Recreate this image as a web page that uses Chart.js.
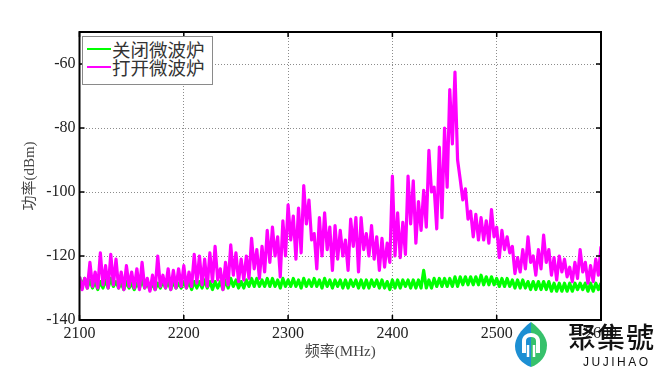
<!DOCTYPE html>
<html><head><meta charset="utf-8">
<script src="https://cdn.jsdelivr.net/npm/chart.js@4"></script>
<style>
html,body{margin:0;padding:0;background:#fff;}
#wrap{position:relative;width:661px;height:372px;overflow:hidden;}
#c{position:absolute;left:0;top:0;}
#legend{position:absolute;left:82px;top:36px;width:131px;height:49px;border:1px solid #8a8a8a;background:#fff;box-sizing:border-box;font-family:"Noto Sans CJK SC";font-size:18.5px;color:#333;}
.item{position:absolute;left:0;width:128px;height:20px;line-height:20px;}
.item .ln{position:absolute;left:4px;top:9px;width:24px;height:2px;}
.item .tx{position:absolute;left:29px;top:0;white-space:nowrap;}
#logo{position:absolute;left:514px;top:321px;}
#brand{position:absolute;left:568px;top:318px;font-family:"Noto Sans CJK TC";font-size:28px;font-weight:500;color:#111;letter-spacing:1px;white-space:nowrap;line-height:36px;}
#brand2{position:absolute;left:583px;top:355px;font-family:"Liberation Sans";font-size:12px;color:#111;letter-spacing:2.5px;line-height:14px;}
</style>
</head><body>
<div id="wrap">
<canvas id="c" width="661" height="372"></canvas>
<div id="legend">
  <div class="item" style="top:2px"><span class="ln" style="background:#00ff00"></span><span class="tx" id="lg0"></span></div>
  <div class="item" style="top:20px"><span class="ln" style="background:#ff00ff"></span><span class="tx" id="lg1"></span></div>
</div>
<svg id="logo" width="34" height="47" viewBox="0 0 34 47">
  <path d="M17 1 C6 9 1 18 1 25 C1 35 8 43 17 46 Z" fill="#1d8fd3"/>
  <path d="M17 1 C28 9 33 18 33 24 C33 35 26 43 17 46 Z" fill="#36c16b"/>
  <path d="M10 32 L10 20 C10 12 24 12 24 20 L24 32" fill="none" stroke="#fff" stroke-width="4"/>
  <path d="M14 36 L14 24 M20 36 L20 24" fill="none" stroke="#fff" stroke-width="2.5"/>
</svg>
<div id="brand">聚集號</div>
<div id="brand2">JUJIHAO</div>
</div>
<script>
// ---- data ----
const FREQ_START = 2100;   // MHz, first sample
const FREQ_STEP = 2.5;     // MHz between samples
const xTickValues = [2100, 2200, 2300, 2400, 2500, 2600];
const yTickValues = [-140, -120, -100, -80, -60];
const seriesNames = ['关闭微波炉', '打开微波炉'];
const xAxisTitle = '频率(MHz)';
const yAxisTitle = '功率(dBm)';

// microwave off (green), dBm
const microwaveOff = [
  -126.5,-129.5, -127,-130, -127.5,-130, -128,-130.5, -128,-130, -127.5,-130, -127,-129.5, -128,-130, -128.5,-130.5, -128,-130,
  -128.5,-130.5, -128.5,-130, -127.5,-130, -128.5,-130.5, -128.5,-130.5, -128.5,-130, -128,-130, -128,-130.5, -128,-130, -128.5,-130,
  -128,-130, -128,-130.5, -128,-130, -128,-130, -127.5,-130, -128,-130.5, -128,-130, -128,-130.5, -127.5,-130, -127,-129.5,
  -127.5,-130, -128,-130, -127.5,-129.5, -127,-129.5, -127,-129.5, -127.5,-129.5, -127,-129.5, -127,-129.5, -127.5,-130, -127,-129.5,
  -127.5,-129.5, -127,-129.5, -127.5,-130, -127,-129.5, -127.5,-129.5, -127,-129.5, -127.5,-130, -127,-129.5, -127.5,-130, -127.5,-129.5,
  -127.5,-130, -127.5,-130, -127.5,-129.5, -127.5,-130, -127.5,-130, -127.5,-130, -127.5,-129.5, -127.5,-130, -127.5,-130, -128,-130.5,
  -127.5,-130, -127.5,-130, -127.5,-129.5, -127.5,-130, -127.5,-130, -127.5,-130, -124.5,-130, -127.5,-130, -127,-129.5, -127,-129.5,
  -127,-129.5, -127,-129.5, -126.5,-129.5, -126.5,-129, -126.5,-129, -126.5,-129, -126.5,-129, -126,-129, -126.5,-129, -126.5,-129,
  -127,-129.5, -127,-129.5, -127,-129.5, -127.5,-130, -127.5,-130, -127.5,-130, -128,-130.5, -128,-130.5, -128,-130.5, -128,-130.5,
  -128,-131, -128.5,-131, -128.5,-131, -128.5,-131, -128.5,-131, -128.5,-130.5, -128.5,-130.5, -128.5,-131, -128.5,-131, -128.5,-130.5,
  -128.5
];

// microwave on (magenta), dBm
const microwaveOn = [
  -126.5,-130.5, -127,-130, -122,-129.5, -125,-130, -119,-129, -123,-130, -119.5,-129, -121,-130, -125,-130.5, -123,-129.5,
  -125,-130, -124,-130.5, -122,-130, -127,-131, -126,-130.5, -120,-129.5, -126,-130, -124,-130.5, -124.5,-130, -124,-129.5,
  -123,-130, -125,-129.5, -119.5,-128.5, -120,-129, -121,-129.5, -119,-128, -117,-127.5, -124,-130.5, -122,-129, -116.5,-126,
  -119,-128, -121,-127.5, -120,-127, -114.5,-124, -118,-127, -117,-125, -112,-122, -111,-120, -114,-126.5, -109,-120,
  -104,-115, -107.5,-121, -105,-119, -98,-110, -102.5,-115, -113,-124, -108,-120, -106.5,-118, -111,-124.5, -110.5,-121,
  -112,-120, -115,-124.5, -108.5,-117, -108,-125, -108,-118, -113,-120, -110.5,-121, -114,-124.5, -114.5,-123.5, -116,-122,
  -95,-120, -106.5,-120.5, -109.5,-119.5, -95,-110, -96.5,-116, -103,-112, -99.5,-111, -87,-100, -98.5,-111.5, -86,-108,
  -80,-98.5, -68,-85, -62.5,-90, -96,-102.5, -99,-108.5, -106,-114, -107,-115, -108,-115, -109,-116, -105.5,-114,
  -111,-120.5, -112,-118, -114,-119, -117,-125.5, -120.5,-125, -118,-124, -114,-122, -120,-126, -118,-124, -113.5,-122,
  -118,-126, -120.5,-127.5, -120,-125, -121,-126.5, -123.5,-128, -122,-127, -118,-125, -122,-128.5, -123,-128, -121,-126,
  -117
];

function toPoints(vals) {
  return vals.map((v, i) => ({ x: FREQ_START + i * FREQ_STEP, y: v }));
}

document.getElementById('lg0').textContent = seriesNames[0];
document.getElementById('lg1').textContent = seriesNames[1];

const framePlugin = {
  id: 'frame',
  afterDraw(chart) {
    const { ctx, chartArea: a, scales: { x, y } } = chart;
    ctx.save();
    ctx.strokeStyle = '#000';
    ctx.lineWidth = 1.5;
    ctx.beginPath();
    xTickValues.forEach(v => {
      const px = x.getPixelForValue(v);
      ctx.moveTo(px, a.bottom); ctx.lineTo(px, a.bottom - 5);
      ctx.moveTo(px, a.top); ctx.lineTo(px, a.top + 5);
    });
    yTickValues.forEach(v => {
      const py = y.getPixelForValue(v);
      ctx.moveTo(a.left, py); ctx.lineTo(a.left + 5, py);
      ctx.moveTo(a.right, py); ctx.lineTo(a.right - 5, py);
    });
    ctx.stroke();
    ctx.lineWidth = 2;
    ctx.strokeRect(a.left, a.top, a.right - a.left, a.bottom - a.top);
    ctx.restore();
  }
};

const tickFont = { family: '"Liberation Serif", "Times New Roman", serif', size: 16 };
const titleFont = { family: '"Liberation Serif", "Noto Sans CJK SC", serif', size: 15 };

new Chart(document.getElementById('c'), {
  type: 'line',
  data: {
    datasets: [
      { label: seriesNames[0], data: toPoints(microwaveOff), borderColor: '#00ff00', borderWidth: 3.2, order: 1 },
      { label: seriesNames[1], data: toPoints(microwaveOn), borderColor: '#ff00ff', borderWidth: 3.2, order: 0 }
    ]
  },
  options: {
    responsive: false,
    animation: false,
    layout: { padding: { top: 32, right: 60, left: 0, bottom: 0 } },
    plugins: { legend: { display: false }, tooltip: { enabled: false } },
    elements: { point: { radius: 0 }, line: { tension: 0, fill: false, borderJoinStyle: 'round' } },
    scales: {
      x: {
        type: 'linear', min: 2100, max: 2600,
        afterBuildTicks: s => { s.ticks = xTickValues.map(v => ({ value: v })); },
        afterFit: s => { s.height = 52; },
        grid: { color: '#8c8c8c', lineWidth: 1, drawTicks: false },
        border: { display: false, dash: [1, 2] },
        ticks: { font: tickFont, color: '#222', padding: 4, maxRotation: 0, autoSkip: false, callback: v => String(v) },
        title: { display: true, text: xAxisTitle, font: titleFont, color: '#444', padding: { top: 0, bottom: 11 } }
      },
      y: {
        type: 'linear', min: -140, max: -50,
        afterBuildTicks: s => { s.ticks = yTickValues.map(v => ({ value: v })); },
        afterFit: s => { s.width = 79.5; },
        grid: { color: '#8c8c8c', lineWidth: 1, drawTicks: false },
        border: { display: false, dash: [1, 2] },
        ticks: { font: tickFont, color: '#222', padding: 4, callback: v => String(v) },
        title: { display: true, text: yAxisTitle, font: titleFont, color: '#444', padding: { top: 21, bottom: 0 } }
      }
    }
  },
  plugins: [framePlugin]
});
</script>
</body></html>
